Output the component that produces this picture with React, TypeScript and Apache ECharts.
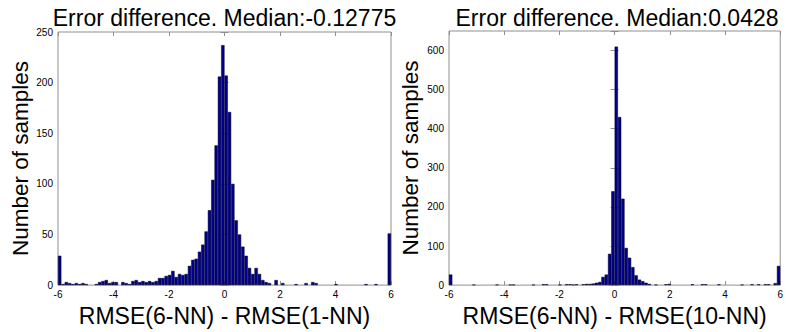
import React, { useEffect, useRef } from "react";
import * as echarts from "echarts";

// Histogram range and bins (MATLAB hist with 100 bins over [-6, 6])
const X_MIN = -6;
const X_MAX = 6;
const X_STEP = 2;
const BIN_COUNT = 100;
const BIN_CENTERS = Array.from({ length: BIN_COUNT }, (_, i) =>
  (X_MIN + ((i + 0.5) * (X_MAX - X_MIN)) / BIN_COUNT).toFixed(2)
);

const LEFT_TITLE = "Error difference. Median:-0.12775";
const RIGHT_TITLE = "Error difference. Median:0.0428";
const LEFT_XNAME = "RMSE(6-NN) - RMSE(1-NN)";
const RIGHT_XNAME = "RMSE(6-NN) - RMSE(10-NN)";
const Y_NAME = "Number of samples";

const LEFT_Y_MAX = 250;
const LEFT_Y_STEP = 50;
const RIGHT_Y_MAX = 650;
const RIGHT_Y_STEP = 100;

// counts per bin, left panel (bins 0..99)
const LEFT_COUNTS = [
  29, 1, 3, 2, 1, 2, 1, 2, 1, 0,
  0, 1, 3, 4, 5, 2, 3, 3, 0, 3,
  2, 1, 4, 5, 3, 4, 3, 4, 3, 4,
  7, 7, 9, 10, 14, 8, 11, 10, 11, 19,
  25, 26, 33, 40, 53, 74, 104, 138, 206, 237,
  207, 171, 100, 64, 50, 38, 29, 17, 11, 17,
  11, 5, 3, 2, 0, 5, 0, 2, 0, 0,
  0, 1, 0, 0, 2, 0, 3, 2, 0, 0,
  0, 0, 0, 1, 0, 0, 0, 0, 0, 0,
  0, 0, 1, 0, 0, 1, 0, 0, 0, 51,
];

// counts per bin, right panel (bins 0..99)
const RIGHT_COUNTS = [
  27, 0, 0, 0, 0, 0, 0, 1, 0, 0,
  0, 0, 0, 0, 1, 0, 0, 0, 1, 1,
  0, 0, 0, 0, 0, 1, 0, 0, 2, 2,
  0, 0, 0, 1, 0, 2, 2, 1, 2, 0,
  2, 3, 3, 4, 6, 8, 21, 27, 80, 240,
  610, 430, 221, 95, 70, 46, 25, 14, 10, 6,
  3, 0, 1, 0, 0, 2, 3, 0, 0, 0,
  0, 0, 0, 2, 0, 0, 2, 2, 0, 0,
  0, 2, 0, 0, 0, 0, 0, 0, 1, 0,
  0, 2, 0, 2, 0, 2, 2, 0, 5, 49,
];

const FONT = "'Liberation Sans', Arial, Helvetica, sans-serif";
const FRAME = "#8f8f8f";
const BAR_FILL = "#00008a";

function buildOption() {
  const panels = [
    {
      grid: { left: 58, top: 32, width: 333, height: 264 },
      title: LEFT_TITLE,
      xName: LEFT_XNAME,
      counts: LEFT_COUNTS,
      yMax: LEFT_Y_MAX,
      yStep: LEFT_Y_STEP,
      yNameGap: 25,
    },
    {
      grid: { left: 449, top: 31, width: 336, height: 265 },
      title: RIGHT_TITLE,
      xName: RIGHT_XNAME,
      counts: RIGHT_COUNTS,
      yMax: RIGHT_Y_MAX,
      yStep: RIGHT_Y_STEP,
      yNameGap: 27,
    },
  ];

  const tick = { show: true, inside: true, length: 4, lineStyle: { color: FRAME, width: 1 } };
  const grid: any[] = [];
  const xAxis: any[] = [];
  const yAxis: any[] = [];
  const series: any[] = [];
  const title: any[] = [];

  panels.forEach((p, i) => {
    grid.push({
      ...p.grid,
      show: true,
      borderColor: FRAME,
      borderWidth: 1,
      backgroundColor: "#fff",
      containLabel: false,
    });
    title.push({
      text: p.title,
      left: p.grid.left + p.grid.width / 2,
      top: 6,
      textAlign: "center",
      padding: 0,
      textStyle: { fontFamily: FONT, fontSize: 23, fontWeight: "normal", color: "#000" },
    });
    const catIndex = xAxis.length;
    xAxis.push({
      type: "category",
      gridIndex: i,
      data: BIN_CENTERS,
      boundaryGap: true,
      show: false,
    });
    xAxis.push({
      type: "value",
      gridIndex: i,
      position: "bottom",
      min: X_MIN,
      max: X_MAX,
      interval: X_STEP,
      axisLine: { show: false },
      axisTick: tick,
      splitLine: { show: false },
      axisLabel: { fontFamily: FONT, fontSize: 10, color: "#000", margin: 4 },
      name: p.xName,
      nameLocation: "middle",
      nameGap: 8,
      nameTextStyle: { fontFamily: FONT, fontSize: 23, color: "#000" },
    });
    xAxis.push({
      type: "value",
      gridIndex: i,
      position: "top",
      min: X_MIN,
      max: X_MAX,
      interval: X_STEP,
      axisLine: { show: false },
      axisTick: tick,
      splitLine: { show: false },
      axisLabel: { show: false },
    });
    const yIndex = yAxis.length;
    yAxis.push({
      type: "value",
      gridIndex: i,
      position: "left",
      min: 0,
      max: p.yMax,
      interval: p.yStep,
      axisLine: { show: false },
      axisTick: tick,
      splitLine: { show: false },
      axisLabel: {
        fontFamily: FONT,
        fontSize: 10,
        color: "#000",
        margin: 5,
        formatter: (v: number) => (v % p.yStep === 0 ? String(v) : ""),
      },
      name: Y_NAME,
      nameLocation: "middle",
      nameGap: p.yNameGap,
      nameTextStyle: { fontFamily: FONT, fontSize: 22.5, color: "#000" },
    });
    yAxis.push({
      type: "value",
      gridIndex: i,
      position: "right",
      min: 0,
      max: p.yMax,
      interval: p.yStep,
      axisLine: { show: false },
      axisTick: tick,
      splitLine: { show: false },
      axisLabel: { show: false },
    });
    series.push({
      type: "bar",
      xAxisIndex: catIndex,
      yAxisIndex: yIndex,
      // empty bins are left blank (no zero-height outline)
      data: p.counts.map((v) => (v === 0 ? "-" : v)),
      barCategoryGap: "0%",
      barGap: "0%",
      itemStyle: { color: BAR_FILL, borderColor: "#000020", borderWidth: 0.5 },
      emphasis: { disabled: true },
    });
  });

  return {
    animation: false,
    backgroundColor: "#fff",
    textStyle: { fontFamily: FONT },
    title,
    grid,
    xAxis,
    yAxis,
    series,
  };
}

export default function App() {
  const ref = useRef<HTMLDivElement | null>(null);
  useEffect(() => {
    if (!ref.current) return;
    const chart = echarts.init(ref.current, undefined, { renderer: "svg" });
    chart.setOption(buildOption() as any);
    return () => chart.dispose();
  }, []);
  return (
    <div
      ref={ref}
      style={{ position: "fixed", left: 0, top: 0, width: 786, height: 332, background: "#fff" }}
    />
  );
}
